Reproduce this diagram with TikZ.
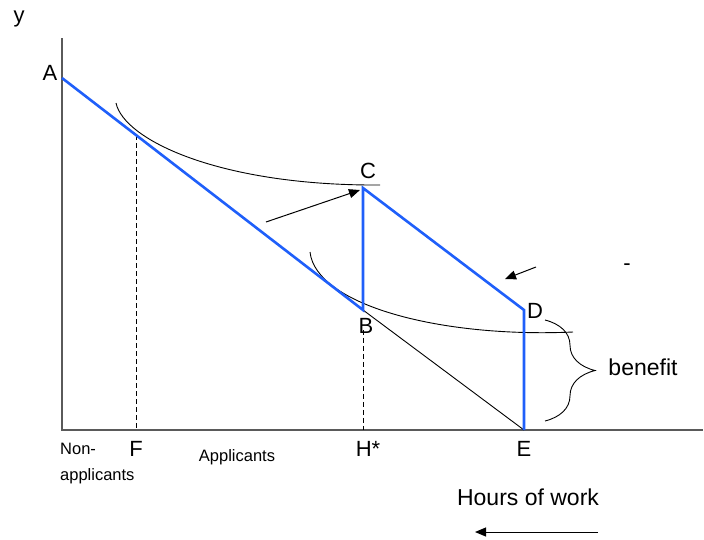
\documentclass[tikz,border=0pt]{standalone}
\usepackage{fontspec}
\setmainfont{Liberation Sans}
\usetikzlibrary{arrows.meta,decorations.pathreplacing}
\definecolor{budget}{HTML}{1F5FFA}
\definecolor{axisgray}{HTML}{5A5A5A}
\tikzset{
  axis/.style   ={line width=1.4pt,draw=axisgray},
  budgetline/.style={line width=2.6pt,draw=budget,line join=miter},
  icurve/.style ={line width=0.9pt,draw=black},
  guide/.style  ={line width=0.9pt,draw=black,dashed,dash pattern=on 5pt off 3pt},
  movearrow/.style={-{Triangle[length=11pt,width=9pt]},line width=1pt,draw=black},
  lbl/.style    ={inner sep=0pt,font=\fontsize{22}{25}\selectfont},
  small/.style  ={inner sep=0pt,font=\fontsize{16.5}{19}\selectfont},
  big/.style    ={inner sep=0pt,font=\fontsize{23}{26}\selectfont}
}
\begin{document}
\begin{tikzpicture}[x=1pt,y=-1pt]
  \useasboundingbox (0,0) rectangle (704,539);
  % points of the budget set
  \coordinate (O) at (62,430);
  \coordinate (A) at (62,78);
  \coordinate (B) at (363,310);
  \coordinate (C) at (363,188);
  \coordinate (D) at (524,310);
  \coordinate (E) at (524,430);
  \coordinate (F) at (136,135);
  \coordinate (Fx) at (136,430);
  \coordinate (Hx) at (363,430);
  % axes
  \draw[axis] (62,38) -- (O) -- (703,430);
  % labels
  \node[lbl] (ly) at (19,19) {y};
  \node[lbl] (lA) at (50,73) {A};
  \node[lbl] (lC) at (368,171) {C};
  \node[lbl] (lB) at (366,326) {B};
  \node[lbl] (lD) at (535,311) {D};
  \node[lbl] (lE) at (524,449) {E};
  \node[lbl] (lH) at (368,449) {H*};
  \node[lbl] (lF) at (136,449) {F};
  \node[lbl] (ldash) at (627,267) {-};
  \node[small,anchor=west] (lnon) at (60,449) {Non-};
  \node[small,anchor=west] (lnon2) at (60,476) {applicants};
  \node[small] (lapp) at (237,457) {Applicants};
  \node[big] (lben) at (643,367) {benefit};
  \node[big] (lhours) at (528,497) {Hours of work};
  % dashed guides
  \draw[guide] (F) -- (Fx);
  \draw[guide] ([yshift=4pt]lB.south -| Hx) -- (Hx);
  % indifference curves
  \draw[icurve] (116,103) .. controls (124,140) and (220,186) .. (380,185);
  \draw[icurve] (310,252) .. controls (316,305) and (440,338) .. (573,332);
  % old budget line to E
  \draw[icurve] (B) -- (E);
  % budget constraint with benefit
  \draw[budgetline] (A) -- (B) -- (C) -- (D) -- (E);
  % arrows
  \coordinate (s1) at (266,222);
  \coordinate (s2) at (536,267);
  \coordinate (s3) at (505,279);
  \coordinate (w1) at (598,532);
  \coordinate (w2) at (475,532);
  \draw[movearrow] (s1) -- ([xshift=-3pt,yshift=-2pt]C);
  \draw[movearrow] (s2) -- (s3);
  \draw[movearrow] (w1) -- (w2);
  % benefit brace
  \draw[icurve,decorate,decoration={brace,amplitude=50pt}] (545,320) -- (545,421);
\end{tikzpicture}
\end{document}
